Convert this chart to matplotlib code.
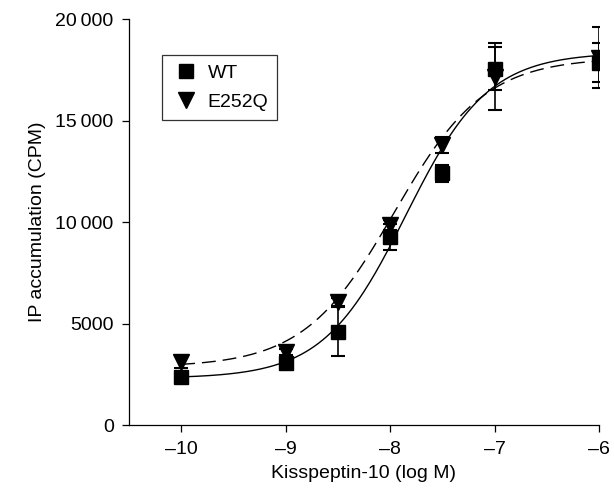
import numpy as np
import matplotlib
matplotlib.use('Agg')
import matplotlib.pyplot as plt

plt.rcParams['font.family'] = ['Liberation Sans', 'DejaVu Sans']
plt.rcParams['font.size'] = 14

# concentrations (log M)
log_conc = [-10, -9, -8.5, -8, -7.5, -7, -6]

# WT means and SEM
wt_mean = [2350, 3050, 4600, 9250, 12400, 17550, 17850]
wt_err = [150, 150, 1200, 650, 420, 1050, 950]

# E252Q means and SEM
mut_mean = [3100, 3600, 6050, 9850, 13800, 17150, 18100]
mut_err = [300, 150, 200, 250, 400, 1650, 1500]

# fitted 4-parameter logistic curves: bottom, top, logEC50, hill
wt_fit = (2300, 18350, -7.85, 1.1)
mut_fit = (2850, 18100, -7.96, 1.0)

yticks = [0, 5000, 10000, 15000, 20000]
ytick_labels = ['0', '5000', '10\u2009000', '15\u2009000', '20\u2009000']
xticks = [-10, -9, -8, -7, -6]
xtick_labels = ['\u201310', '\u20139', '\u20138', '\u20137', '\u20136']


def logistic(x, bottom, top, ec50, hill):
    return bottom + (top - bottom) / (1 + 10 ** ((ec50 - x) * hill))


fig = plt.figure(figsize=(6.14, 4.95), dpi=100)
ax = fig.add_axes([0.210, 0.1414, 0.7656, 0.8202])

xs = np.linspace(-10, -6, 300)
ax.plot(xs, logistic(xs, *wt_fit), color='black', lw=1.0)
ax.plot(xs, logistic(xs, *mut_fit), color='black', lw=1.0, dashes=(10, 5))

ax.errorbar(log_conc, wt_mean, yerr=wt_err, fmt='none', ecolor='black',
            elinewidth=1.2, capsize=5, capthick=1.5)
ax.errorbar(log_conc, mut_mean, yerr=mut_err, fmt='none', ecolor='black',
            elinewidth=1.2, capsize=5, capthick=1.5)
ax.plot(log_conc, wt_mean, 's', color='black', ms=10, label='WT')
ax.plot(log_conc, mut_mean, 'v', color='black', ms=11, label='E252Q')

ax.set_xlim(-10.5, -6)
ax.set_ylim(0, 20000)
ax.set_xticks(xticks)
ax.set_xticklabels(xtick_labels)
ax.set_yticks(yticks)
ax.set_yticklabels(ytick_labels)
ax.spines['top'].set_visible(False)
ax.spines['right'].set_visible(False)
for s in ('left', 'bottom'):
    ax.spines[s].set_linewidth(0.9)
ax.tick_params(direction='out', length=5, width=0.9, labelsize=14)
ax.tick_params(axis='x', pad=6.5)
ax.tick_params(axis='y', pad=6)

ax.set_xlabel('Kisspeptin-10 (log M)', fontsize=14, labelpad=5)
ax.set_ylabel('IP accumulation (CPM)', fontsize=14, labelpad=7)

leg = ax.legend(loc='upper left', bbox_to_anchor=(0.070, 0.911), borderaxespad=0,
                frameon=True, fancybox=False, fontsize=14, handlelength=1.6,
                handletextpad=0.3, borderpad=0.45, labelspacing=0.6)
leg.get_frame().set_edgecolor('black')
leg.get_frame().set_linewidth(0.9)

fig.savefig('out.png', dpi=100)
